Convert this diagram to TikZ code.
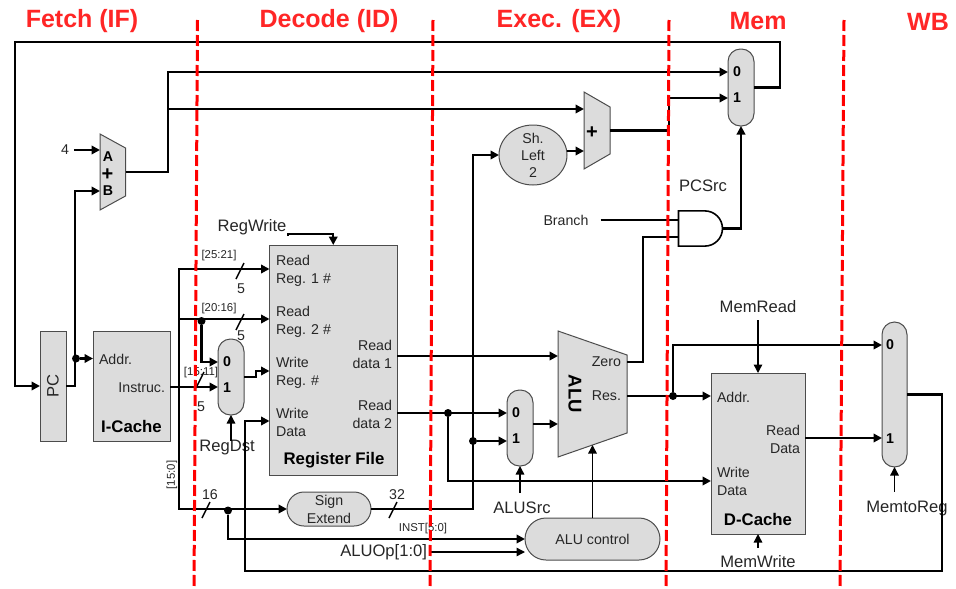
\documentclass[tikz,border=0pt]{standalone}
\usepackage{tikz}
\usepackage{fontspec}
\setmainfont{Liberation Sans}
\usetikzlibrary{
    arrows.meta,
    calc,
    shapes.geometric,
    shapes.gates.logic.US,
}
\definecolor{unitgray}{RGB}{220,220,220}
\definecolor{stagered}{RGB}{255,38,38}

\begin{document}
\begin{tikzpicture}[
    x=1pt, y=-1pt,
    >={Triangle[length=8.5pt,width=8.5pt]},
    unit/.style={draw=black!70, line width=1pt, fill=unitgray, outer sep=0pt, inner sep=0pt},
    muxunit/.style={unit, rounded corners=12.5pt, minimum width=26pt},
    slab/.style={inner sep=0pt, outer sep=0pt, text=black!85, font=\fontsize{14.2}{18}\selectfont, align=left},
    slabr/.style={inner sep=0pt, outer sep=0pt, text=black!85, font=\fontsize{14.2}{18}\selectfont, align=right, anchor=east},
    ctrl/.style={inner sep=0pt, outer sep=0pt, text=black!85, font=\fontsize{16.6}{20}\selectfont},
    title/.style={inner sep=0pt, outer sep=0pt, text=black, font=\bfseries\fontsize{16.8}{20}\selectfont},
    muxbit/.style={inner sep=0pt, outer sep=0pt, text=black, font=\bfseries\fontsize{14.2}{18}\selectfont},
    bits/.style={inner sep=0pt, outer sep=0pt, text=black!85, font=\fontsize{11.4}{14}\selectfont},
    stagename/.style={inner sep=0pt, text=stagered, font=\bfseries\fontsize{25}{30}\selectfont},
    stageline/.style={draw=red, line width=3pt, dash pattern=on 11pt off 4pt},
    wire/.style={line width=2.1pt, draw=black},
    thinwire/.style={line width=1.4pt, draw=black},
    joint/.style={circle, fill=black, inner sep=0pt, minimum size=8pt},
    ]

\useasboundingbox (0,0) rectangle (956,589);

\node[stagename] at (82,21.5) (fetch) {Fetch (IF)};

\node[stagename] at (329,21.5) (decode) {Decode (ID)};

\node[stagename] at (559,21.5) (exec) {Exec. (EX)};

\node[stagename] at (758,21.5) (mem) {Mem};

\node[stagename] at (928,21.5) (wb) {WB};

\node[unit, minimum width=26pt, minimum height=110pt] at (53,386) (pc) {};
\node[ctrl, rotate=90] at (53,386) (pclabel) {PC};

\node[unit, minimum width=77pt, minimum height=110pt] at (131.5,386) (icache) {};
\node[slab, anchor=west] at (99,359) (iaddr) {Addr.};
\node[slabr] at (165,388) (iinstr) {Instruc.};
\node[title] at (131.5,426) (ilabel) {I-Cache};

\node[minimum width=25.5pt, minimum height=76pt, inner sep=0pt, outer sep=0pt] at (112.75,172) (adder) {};
\draw[unit] (adder.north west) -- ([yshift=-14]adder.north east) -- ([yshift=14]adder.south east) -- (adder.south west) -- cycle;
\node[muxbit] at (108,157) (addera) {A};
\node[muxbit, font=\bfseries\fontsize{20}{20}\selectfont] at (107.5,175) (adderplus) {+};
\node[muxbit] at (108,191) (adderb) {B};

\node[slab] at (65,150) (four) {4};

\node[unit, minimum width=127.5pt, minimum height=230pt] at (333.25,360) (regfile) {};
\node[slab, anchor=west] at (276,271) (rread1) {Read\\Reg. 1 \#};
\node[slab, anchor=west] at (276,322) (rread2) {Read\\Reg. 2 \#};
\node[slab, anchor=west] at (276,373) (rwrite) {Write\\Reg. \#};
\node[slab, anchor=west] at (276,422) (rdata) {Write\\Data};
\node[slabr] at (392,354) (rout1) {Read\\data 1};
\node[slabr] at (392,414) (rout2) {Read\\data 2};
\node[title] at (334,460) (rlabel) {Register File};

\node[ctrl] at (252,227) (regwrite) {RegWrite};

\node[muxunit, minimum height=76pt] at (231,377) (muxdst) {};
\node[muxbit] at (227,362) (muxdst0) {0};
\node[muxbit] at (227,388) (muxdst1) {1};
\node[ctrl] at (227,448) (regdst) {RegDst};

\node[unit, rounded corners=17pt, minimum width=84pt, minimum height=34pt] at (329,509) (signext) {};
\node[slab, align=center] at (329,509) (signlabel) {Sign\\Extend};

\node[unit, ellipse, minimum width=68pt, minimum height=60pt] at (533,155) (shl) {};
\node[slab, align=center, font=\fontsize{14.2}{17}\selectfont] at (533,155) (shllabel) {Sh.\\Left\\2};

\node[minimum width=26pt, minimum height=77pt, inner sep=0pt, outer sep=0pt] at (597,130.5) (adder2) {};
\draw[unit] (adder2.north west) -- ([yshift=-15]adder2.north east) -- ([yshift=15]adder2.south east) -- (adder2.south west) -- cycle;
\node[muxbit, font=\bfseries\fontsize{20}{20}\selectfont] at (592,133) (adder2plus) {+};

\node[muxunit, minimum height=77pt] at (741,87.5) (muxpc) {};
\node[muxbit] at (737,72) (muxpc0) {0};
\node[muxbit] at (737,98) (muxpc1) {1};

\node[and gate US, draw=black, line width=1.6pt, fill=white, logic gate inputs=nn, minimum width=44pt, minimum height=35pt, inner sep=0pt, outer sep=0pt] at (699,228.5) (andgate) {};
\node[ctrl] at (703,186) (pcsrc) {PCSrc};
\node[slab] at (566,220) (branch) {Branch};

\node[muxunit, minimum height=76pt] at (520,428) (muxalu) {};
\node[muxbit] at (516,413) (muxalu0) {0};
\node[muxbit] at (516,439) (muxalu1) {1};
\node[ctrl] at (522,508) (alusrc) {ALUSrc};

\node[minimum width=69pt, minimum height=126pt, inner sep=0pt, outer sep=0pt] at (592.5,394) (alu) {};
\draw[unit] (alu.north west) -- ([yshift=-24]alu.north east) -- ([yshift=24]alu.south east) -- (alu.south west) -- cycle;
\node[muxbit, rotate=-90, font=\bfseries\fontsize{18.5}{20}\selectfont] at (575,394) (alulabel) {ALU};
\node[slabr] at (621,362) (aluzero) {Zero};
\node[slabr] at (621,396) (alures) {Res.};

\node[unit, rounded corners=21pt, minimum width=135pt, minimum height=42pt] at (592.5,539) (aluctl) {};
\node[slab] at (592.5,539) (aluctllabel) {ALU control};
\node[bits] at (423,529) (instbits) {INST[5:0]};
\node[ctrl, anchor=east] at (427,552) (aluop) {ALUOp[1:0]};

\node[unit, minimum width=94pt, minimum height=161pt] at (758,453.5) (dcache) {};
\node[slab, anchor=west] at (717,397) (daddr) {Addr.};
\node[slabr] at (800,439) (dread) {Read\\Data};
\node[slab, anchor=west] at (717,481) (dwrite) {Write\\Data};
\node[title] at (758,519) (dlabel) {D-Cache};
\node[ctrl] at (758,307) (memread) {MemRead};
\node[ctrl] at (758,562) (memwrite) {MemWrite};

\node[unit, rounded corners=12.5pt, minimum width=25pt, minimum height=145pt] at (894.5,394.5) (muxwb) {};
\node[muxbit] at (890,345) (muxwb0) {0};
\node[muxbit] at (890,439) (muxwb1) {1};
\node[ctrl] at (907,509) (memtoreg) {MemtoReg};

\node[bits] at (219,256) (bits2521) {[25:21]};
\node[bits] at (219,309) (bits2016) {[20:16]};
\node[bits] at (201,373) (bits1511) {[15:11]};
\node[bits, rotate=90] at (172,475) (bits150) {[15:0]};
\node[slab] at (241,289) (width1) {5};
\node[slab] at (241,336) (width2) {5};
\node[slab] at (201,407) (width3) {5};
\node[slab] at (210,495) (width4) {16};
\node[slab] at (397,495) (width5) {32};

\node[joint] at (76,358.5) (pcdot) {};
\node[joint] at (201.5,321) (regdot) {};
\node[joint] at (228,510.5) (extdot) {};
\node[joint] at (448,413) (rd2dot) {};
\node[joint] at (473,441) (aludot) {};
\node[joint] at (673,396) (memdot) {};

\coordinate (fbtop) at (780,42);
\coordinate (fbleft) at (15,42);
\coordinate (addjoin) at (168,109);
\coordinate (instjoin) at (179,387);
\coordinate (wbright) at (942,571);
\coordinate (wbleft) at (245,571);

\draw[->, wire] (muxpc.east) -| (fbtop) -- (fbleft) |- (pc.west);

\draw[->, wire] (pc.east) -- ++(9,0) |- ([yshift=-19]adder.west);

\draw[->, wire] (pcdot) -- ([yshift=27.5]icache.west);

\draw[->, wire] ([xshift=5]four.east) -- ([yshift=22]adder.west);

\draw[->, wire] (adder.east) -- ++(42.5,0) |- ([yshift=15.5]muxpc.west);

\draw[->, wire] (addjoin) -- ([yshift=21.5]adder2.west);

\draw[->, wire] (adder2.east) -- ++(59,0) |- ([yshift=-10.5]muxpc.west);

\draw[->, wire] (signext.east) -- ++(102,0) |- (shl.west);

\draw[->, wire] ([yshift=4]shl.east) -- ([yshift=-20.5]adder2.west);

\draw[->, wire] (aludot) -- ([yshift=-13]muxalu.west);

\draw[->, wire] ([yshift=-53]regfile.east) -- ([yshift=15]muxalu.west);

\draw[->, wire] ([yshift=4]regfile.east) -- ([yshift=38]alu.west);

\draw[->, wire] (rd2dot) |- ([yshift=-27.5]dcache.west);

\draw[->, wire] ([yshift=4]muxalu.east) -- ([yshift=-30]alu.west);

\draw[wire] ([yshift=32]alu.east) -- ++(16,0) |- ([yshift=-8.5]andgate.west);

\draw[->, wire, line width=2.8pt] ([yshift=-2]alu.east) -- ([yshift=57.5]dcache.west);

\draw[->, wire] (memdot) |- ([yshift=49.5]muxwb.west);

\draw[->, wire] ([yshift=15.5]dcache.east) -- ([yshift=-43.5]muxwb.west);

\draw[->, wire] (muxwb.east) -| (wbright) -- (wbleft) |- ([yshift=-61]regfile.west);

\draw[->, wire, line width=2.8pt] ([yshift=-1]icache.east) -- ([yshift=-10]muxdst.west);

\draw[->, wire] (instjoin) |- ([yshift=91]regfile.west);

\draw[->, wire] (instjoin) |- ([yshift=41]regfile.west);

\draw[->, wire] (instjoin) |- (signext.west);

\draw[->, wire] (regdot) |- ([yshift=15]muxdst.west);

\draw[->, wire] (muxdst.east) -- ++(12,0) |- ([yshift=-11]regfile.west);

\draw[->, wire] (extdot) |- (aluctl.west);

\draw[->, thinwire] ([xshift=4]aluop.east) -- ([yshift=-13]aluctl.west);

\draw[->, thinwire] (aluctl.north) -- ([yshift=-51]alu.center);

\draw[->, thinwire] ([xshift=-2,yshift=9]alusrc.north) -- (muxalu.south);

\draw[->, thinwire] ([xshift=4]regdst.north) -- (muxdst.south);

\draw[->, thinwire] ([xshift=-12.5,yshift=10]memtoreg.north) -- (muxwb.south);

\draw[->, thinwire] ([yshift=-7]memread.south) -- (dcache.north);

\draw[->, thinwire] ([yshift=8]memwrite.north) -- (dcache.south);

\draw[wire] ([xshift=12]branch.east) -- ([yshift=8.5]andgate.west);

\draw[->, wire] (andgate.east) -| (muxpc.south);

\draw[->, wire] ([xshift=2,yshift=-9]regwrite.east) -- ++(0,-2) -| (regfile.north);

\foreach \x/\y in {236/279, 236/330, 196/388, 202/518, 389/518}
    \draw[thinwire] (\x,\y) -- ++(8,-16);

\foreach \xa/\xb in {197.5/194, 433/430, 669/666, 844/840}
    \draw[stageline] (\xa,20) -- (\xb,589);

\end{tikzpicture}
\end{document}
